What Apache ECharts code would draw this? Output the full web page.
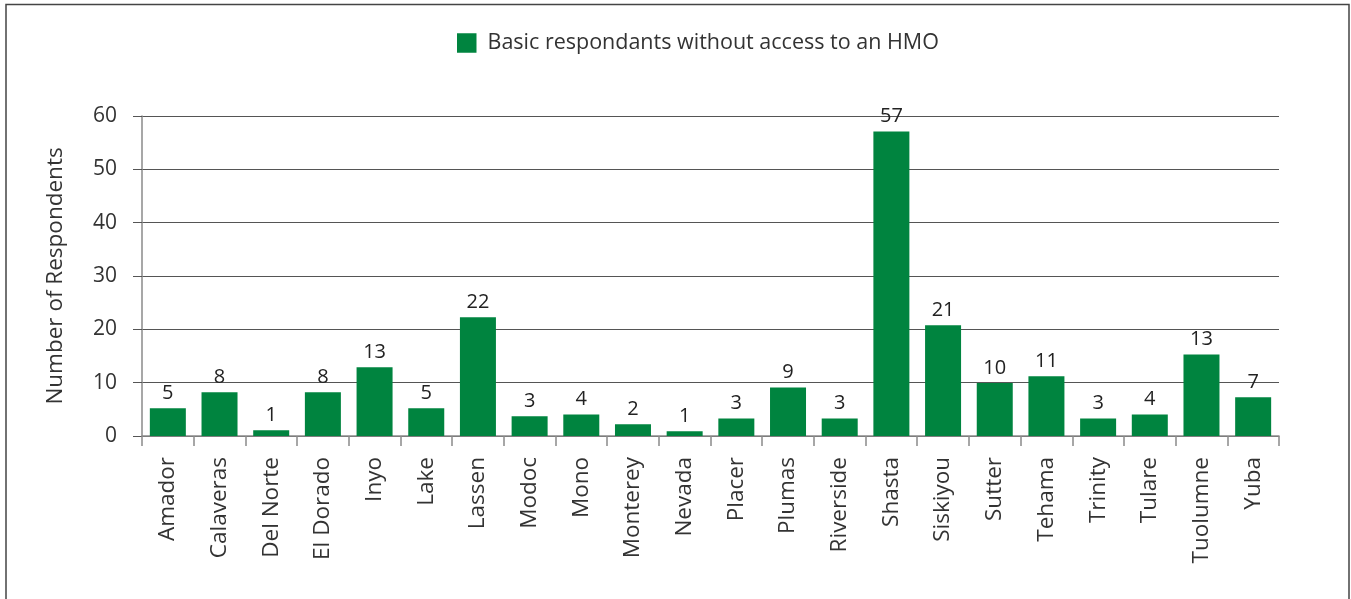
<!DOCTYPE html>
<html>
<head>
<meta charset="utf-8">
<script src="https://cdn.jsdelivr.net/npm/echarts@6/dist/echarts.min.js"></script>
<style>
html,body{margin:0;padding:0;background:#fff;}
#chart{width:1351px;height:599px;}
</style>
</head>
<body>
<div id="chart"></div>
<script>
// Categories (counties)
const categories = ["Amador","Calaveras","Del Norte","El Dorado","Inyo","Lake","Lassen","Modoc","Mono","Monterey","Nevada","Placer","Plumas","Riverside","Shasta","Siskiyou","Sutter","Tehama","Trinity","Tulare","Tuolumne","Yuba"];
// Bar heights as drawn in the reference
const barValues = [5.2,8.2,1.1,8.2,12.9,5.2,22.25,3.7,4.05,2.2,0.9,3.3,9.1,3.3,57.1,20.75,9.95,11.2,3.3,4.05,15.3,7.25];
// Printed value labels
const valueLabels = ["5","8","1","8","13","5","22","3","4","2","1","3","9","3","57","21","10","11","3","4","13","7"];
const yTicks = [0,10,20,30,40,50,60];
const seriesName = "Basic respondants without access to an HMO";
const yAxisTitle = "Number of Respondents";

const FONT = "'Open Sans', sans-serif";
const chart = echarts.init(document.getElementById('chart'));
chart.setOption({
  animation: false,
  backgroundColor: '#fff',
  legend: {
    left: 452, top: 27,
    icon: 'rect', itemWidth: 19.5, itemHeight: 19.5,
    textStyle: { fontFamily: FONT, fontSize: 21.5, color: '#333', padding: [0,0,0,6] },
    data: [seriesName]
  },
  grid: { left: 142, right: 72, top: 116, bottom: 163, containLabel: false },
  xAxis: {
    type: 'category',
    data: categories,
    axisLine: { lineStyle: { color: '#8a8a8a', width: 1.5 } },
    axisTick: { show: true, length: 10, alignWithLabel: false, lineStyle: { color: '#8a8a8a', width: 1.5 } },
    axisLabel: { rotate: 90, margin: 21, interval: 0, fontFamily: FONT, fontSize: 22.5, color: '#333' }
  },
  yAxis: {
    type: 'value', min: yTicks[0], max: yTicks[yTicks.length-1], interval: 10,
    name: yAxisTitle, nameLocation: 'middle', nameGap: 75, nameRotate: 90,
    nameTextStyle: { fontFamily: FONT, fontSize: 22.5, color: '#333' },
    axisLine: { show: true, lineStyle: { color: '#8a8a8a', width: 1.5 } },
    axisTick: { show: true, length: 9, lineStyle: { color: '#555', width: 1 } },
    axisLabel: { margin: 25, fontFamily: FONT, fontSize: 21, color: '#333' },
    splitLine: { show: true, lineStyle: { color: '#555', width: 1.2 } }
  },
  series: [{
    name: seriesName,
    type: 'bar',
    data: barValues,
    barWidth: 36,
    itemStyle: { color: '#00843f' },
    label: {
      show: true, position: 'top', distance: 5,
      fontFamily: FONT, fontSize: 20, color: '#222',
      formatter: p => valueLabels[p.dataIndex]
    }
  }],
  graphic: [{
    type: 'polyline',
    shape: { points: [[6, 599], [6, 4.5], [1349, 4.5], [1349, 599]] },
    style: { stroke: '#444', lineWidth: 1.5, fill: null },
    silent: true
  }]
});
</script>
</body>
</html>
